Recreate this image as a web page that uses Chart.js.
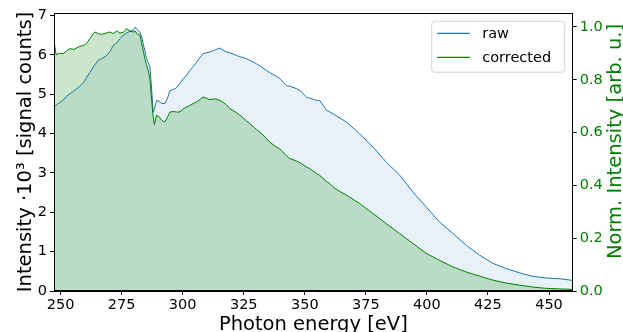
<!DOCTYPE html>
<html>
<head>
<meta charset="utf-8">
<script src="https://cdn.jsdelivr.net/npm/chart.js@4"></script>
<style>
  html, body { margin: 0; padding: 0; background: #fff; }
  #wrap { width: 623px; height: 332px; }
</style>
</head>
<body>
<div id="wrap"><canvas id="chart"></canvas></div>
<script>
// photon energy [eV]
const energy = [
  247.4, 248.2, 249.5, 251.1, 252.5, 253.8, 255.5, 257.9, 259.5, 260.7,
  262.0, 263.4, 264.1, 265.4, 266.8, 268.9, 270.2, 271.6, 273.0, 274.3,
  275.7, 277.0, 278.4, 279.7, 280.5, 281.2, 282.5, 283.2, 283.8, 284.5,
  285.2, 285.9, 286.6, 287.3, 287.9, 288.4, 289.3, 290.3, 291.4, 292.7,
  293.8, 294.8, 296.2, 297.5, 298.9, 300.2, 301.6, 302.9, 304.3, 305.7,
  307.0, 308.4, 309.7, 311.1, 313.2, 315.2, 316.5, 317.9, 319.3, 322.1,
  323.4, 326.1, 327.5, 330.2, 331.6, 334.3, 335.6, 338.4, 339.7, 342.5,
  343.8, 346.6, 348.0, 350.7, 352.0, 354.8, 356.1, 358.9, 360.2, 361.6,
  363.6, 367.1, 372.5, 378.0, 383.4, 388.9, 394.3, 399.8, 405.2, 410.7,
  416.1, 421.6, 427.1, 432.5, 438.0, 443.4, 448.9, 454.3, 459.7
];

// raw signal, 10^3 counts (left axis)
const rawCounts = [
  4.68, 4.72, 4.78, 4.85, 4.95, 5.01, 5.08, 5.20, 5.30, 5.43,
  5.55, 5.69, 5.75, 5.86, 5.90, 5.98, 6.08, 6.24, 6.30, 6.41,
  6.50, 6.55, 6.60, 6.62, 6.70, 6.66, 6.57, 6.45, 6.28, 6.10,
  5.90, 5.80, 5.69, 5.10, 4.54, 4.62, 4.84, 4.82, 4.76, 4.76,
  4.90, 5.09, 5.12, 5.16, 5.28, 5.39, 5.48, 5.60, 5.70, 5.81,
  5.92, 6.03, 6.05, 6.07, 6.12, 6.17, 6.12, 6.07, 6.05, 5.98,
  5.95, 5.90, 5.86, 5.77, 5.72, 5.60, 5.55, 5.45, 5.40, 5.22,
  5.20, 5.14, 5.10, 4.92, 4.90, 4.84, 4.84, 4.59, 4.55, 4.50,
  4.42, 4.29, 3.99, 3.65, 3.27, 2.94, 2.51, 2.13, 1.75, 1.46,
  1.16, 0.91, 0.70, 0.57, 0.46, 0.37, 0.33, 0.31, 0.27
];

// corrected, normalised (right axis)
const corrected = [
  0.940, 0.895, 0.900, 0.899, 0.910, 0.918, 0.915, 0.927, 0.930, 0.939,
  0.956, 0.975, 0.981, 0.975, 0.972, 0.978, 0.981, 0.975, 0.985, 0.977,
  0.980, 0.994, 0.985, 0.981, 0.985, 0.975, 0.969, 0.940, 0.912, 0.880,
  0.855, 0.836, 0.800, 0.722, 0.660, 0.631, 0.666, 0.660, 0.647, 0.640,
  0.660, 0.678, 0.680, 0.678, 0.678, 0.690, 0.697, 0.703, 0.710, 0.716,
  0.725, 0.735, 0.730, 0.725, 0.728, 0.722, 0.715, 0.705, 0.691, 0.675,
  0.666, 0.645, 0.634, 0.612, 0.602, 0.578, 0.564, 0.545, 0.539, 0.512,
  0.502, 0.492, 0.486, 0.470, 0.464, 0.445, 0.438, 0.415, 0.407, 0.394,
  0.381, 0.363, 0.331, 0.293, 0.255, 0.217, 0.180, 0.142, 0.116, 0.091,
  0.072, 0.056, 0.041, 0.030, 0.022, 0.015, 0.010, 0.008, 0.006
];

const xTicks = [250, 275, 300, 325, 350, 375, 400, 425, 450];
const countTicks = [0, 1, 2, 3, 4, 5, 6, 7];
const normTicks = [0, 0.2, 0.4, 0.6, 0.8, 1.0];
const seriesLabels = ['raw', 'corrected'];

const FONT = 'DejaVu Sans';
const BLUE = '#1f77b4';
const GREEN = '#008000';

const toPoints = ys => ys.map((y, i) => ({ x: energy[i], y }));
const fixTicks = list => scale => { scale.ticks = list.map(v => ({ value: v })); };

// full axes frame, legend box and right-hand label (matplotlib look)
const decorations = {
  id: 'decorations',
  afterDraw(chart) {
    const { ctx, chartArea: a } = chart;
    ctx.save();
    ctx.strokeStyle = '#000';
    ctx.lineWidth = 1;
    ctx.strokeRect(Math.round(a.left) + 0.5, Math.round(a.top) + 0.5,
      Math.round(a.right - a.left) - 1, Math.round(a.bottom - a.top) - 1);

    // legend
    const bw = 133, bh = 51;
    const bx = a.right - 8.5 - bw, by = a.top + 7.7;
    ctx.beginPath();
    ctx.roundRect(bx + 0.5, by + 0.5, bw, bh, 3);
    ctx.fillStyle = 'rgba(255,255,255,0.8)';
    ctx.fill();
    ctx.strokeStyle = '#d6d6d6';
    ctx.stroke();
    ctx.font = `14.5px "${FONT}"`;
    ctx.textBaseline = 'middle';
    ctx.textAlign = 'left';
    chart.data.datasets.forEach((ds, i) => {
      const ly = by + 12.6 + i * 24;
      ctx.strokeStyle = ds.borderColor;
      ctx.lineWidth = 1.2;
      ctx.beginPath();
      ctx.moveTo(bx + 6, ly);
      ctx.lineTo(bx + 38.5, ly);
      ctx.stroke();
      ctx.fillStyle = '#000';
      ctx.fillText(ds.label, bx + 51, ly + 1);
    });

    // right axis title, reading bottom to top
    ctx.translate(a.right + 43, 141.5);
    ctx.rotate(-Math.PI / 2);
    ctx.textAlign = 'center';
    ctx.fillStyle = GREEN;
    ctx.font = `19.5px "${FONT}"`;
    ctx.fillText('Norm. Intensity [arb. u.]', 0, 0);
    ctx.restore();
  }
};

new Chart(document.getElementById('chart'), {
  type: 'line',
  data: {
    datasets: [
      {
        label: seriesLabels[0],
        data: toPoints(rawCounts),
        yAxisID: 'y',
        borderColor: BLUE,
        backgroundColor: 'rgba(31,119,180,0.1)',
        borderWidth: 1,
        pointRadius: 0,
        fill: 'origin',
        order: 2
      },
      {
        label: seriesLabels[1],
        data: toPoints(corrected),
        yAxisID: 'y2',
        borderColor: GREEN,
        backgroundColor: 'rgba(0,128,0,0.2)',
        borderWidth: 1,
        pointRadius: 0,
        fill: 'origin',
        order: 1
      }
    ]
  },
  options: {
    responsive: true,
    maintainAspectRatio: false,
    animation: false,
    devicePixelRatio: 1,
    layout: { padding: { top: 13, left: 0, right: 0, bottom: 0 } },
    plugins: { legend: { display: false }, tooltip: { enabled: false } },
    scales: {
      x: {
        type: 'linear',
        min: 247.3,
        max: 459.7,
        afterBuildTicks: fixTicks(xTicks),
        afterFit: s => { s.height = 41; },
        grid: { drawOnChartArea: false, tickLength: 4, tickColor: '#000' },
        border: { color: '#000' },
        ticks: { color: '#000', padding: 2, maxRotation: 0, autoSkip: false,
                 font: { family: FONT, size: 14.5 } },
        title: { display: true, text: 'Photon energy [eV]', color: '#000', padding: 0,
                 font: { family: FONT, size: 19.5, lineHeight: 0.7 } }
      },
      y: {
        position: 'left',
        min: 0,
        max: 7.06,
        afterBuildTicks: fixTicks(countTicks),
        afterFit: s => { s.width = 54; },
        grid: { drawOnChartArea: false, tickLength: 4, tickColor: '#000' },
        border: { color: '#000' },
        ticks: { color: '#000', padding: 3, font: { family: FONT, size: 14.5 } },
        title: { display: true, text: 'Intensity ·10³ [signal counts]', color: '#000',
                 padding: { top: 14 }, font: { family: FONT, size: 19.5 } }
      },
      y2: {
        position: 'right',
        min: 0,
        max: 1.053,
        afterBuildTicks: fixTicks(normTicks),
        afterFit: s => { s.width = 50.3; },
        grid: { drawOnChartArea: false, tickLength: 4, tickColor: '#000' },
        border: { color: '#000' },
        ticks: { color: GREEN, padding: 3, font: { family: FONT, size: 14.5 },
                 callback: v => v.toFixed(1) }
      }
    }
  },
  plugins: [decorations]
});
</script>
</body>
</html>
